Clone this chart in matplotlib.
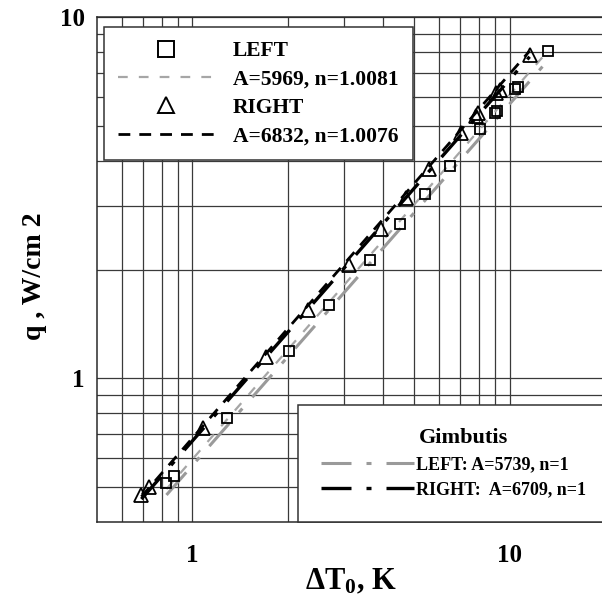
import matplotlib
matplotlib.use('Agg')
import matplotlib.pyplot as plt
import numpy as np
from matplotlib.lines import Line2D
from matplotlib.ticker import FixedLocator, NullFormatter

plt.rcParams['font.family'] = 'Liberation Serif'
plt.rcParams['font.weight'] = 'bold'
plt.rcParams['axes.labelweight'] = 'bold'
plt.rcParams['mathtext.fontset'] = 'custom'
plt.rcParams['mathtext.rm'] = 'Liberation Serif:bold'
plt.rcParams['mathtext.it'] = 'Liberation Serif:bold'
plt.rcParams['mathtext.bf'] = 'Liberation Serif:bold'
plt.rcParams['lines.scale_dashes'] = False

left_dt = [0.828, 0.877, 1.289, 2.023, 2.69, 3.636, 4.53, 5.43, 6.47, 8.04,
           9.01, 9.15, 10.44, 10.62, 13.2]
left_q = [0.514, 0.537, 0.778, 1.186, 1.597, 2.127, 2.675, 3.23, 3.87, 4.89,
          5.43, 5.51, 6.31, 6.42, 8.07]
right_dt = [0.69, 0.727, 1.083, 1.708, 2.311, 3.128, 3.94, 4.70, 5.59, 7.04,
            7.81, 7.94, 9.08, 9.30, 11.57]
right_q = [0.476, 0.501, 0.730, 1.144, 1.547, 2.06, 2.586, 3.15, 3.79, 4.77,
           5.32, 5.42, 6.15, 6.28, 7.85]

# power-law fits q = A * dT^n (A in W/m2K -> W/cm2)
fit_left = (5969, 1.0081)
fit_right = (6832, 1.0076)
gimb_left = (5739, 1.0)
gimb_right = (6709, 1.0)

x_major = [1, 10]
x_minor = [0.6, 0.7, 0.8, 0.9, 2, 3, 4, 5, 6, 7, 8, 9]
y_major = [1, 10]
y_minor = [0.5, 0.6, 0.7, 0.8, 0.9, 2, 3, 4, 5, 6, 7, 8, 9]

dash_fit_l = (7, 8)
dash_fit_r = (8.5, 6.5)
dash_gimb = (21.6, 10.8, 3.6, 10.8)
gray = '#a6a6a6'
grid_c = '#3a3a3a'


def power(par, dt):
    dt = np.asarray(dt)
    return par[0] * dt ** par[1] / 1e4


fig = plt.figure(figsize=(6.02, 6.01), dpi=100)
ax = fig.add_axes([97 / 602, 79 / 601, 508 / 602, 505 / 601])
ax.set_xscale('log')
ax.set_yscale('log')
ax.set_xlim(0.5, 20)
ax.set_ylim(0.4, 10)

ax.xaxis.set_major_locator(FixedLocator(x_major))
ax.xaxis.set_minor_locator(FixedLocator(x_minor))
ax.yaxis.set_major_locator(FixedLocator(y_major))
ax.yaxis.set_minor_locator(FixedLocator(y_minor))
ax.set_xticklabels([str(v) for v in x_major])
ax.set_yticklabels([str(v) for v in y_major])
ax.xaxis.set_minor_formatter(NullFormatter())
ax.yaxis.set_minor_formatter(NullFormatter())
ax.tick_params(which='both', length=0, labelsize=18)
ax.tick_params(axis='x', pad=16)
ax.tick_params(axis='y', pad=9)
ax.grid(True, which='both', color=grid_c, lw=0.9)
ax.set_axisbelow(True)
for s in ax.spines.values():
    s.set_color('#2a2a2a')
    s.set_linewidth(1.1)

lx = np.array([min(left_dt), max(left_dt)])
rx = np.array([min(right_dt), max(right_dt)])

ax.plot(lx, power(gimb_left, lx), color='#9a9a9a', lw=2.2, dashes=dash_gimb)
ax.plot(rx, power(gimb_right, rx), color='k', lw=2.4, dashes=dash_gimb)
ax.plot(lx, power(fit_left, lx), color=gray, lw=1.6, dashes=dash_fit_l)
ax.plot(rx, power(fit_right, rx), color='k', lw=2.0, dashes=dash_fit_r)

ax.plot(left_dt, left_q, ls='none', marker='s', ms=7.5, mfc='none', mec='k', mew=1.3)
ax.plot(right_dt, right_q, ls='none', marker='^', ms=10, mfc='none', mec='k', mew=1.3)

ax.set_xlabel('ΔT$_0$, K', fontsize=22)
ax.set_ylabel('q , W/cm 2', fontsize=20)
ax.xaxis.set_label_coords(0.5, -0.089)
ax.yaxis.set_label_coords(-0.098, 0.487)

h1 = [
    Line2D([], [], ls='none', marker='s', ms=12, mfc='none', mec='k', mew=1.4),
    Line2D([], [], color=gray, lw=1.6, dashes=dash_fit_l),
    Line2D([], [], ls='none', marker='^', ms=12, mfc='none', mec='k', mew=1.4),
    Line2D([], [], color='k', lw=2.0, dashes=dash_fit_r),
]
l1 = ['LEFT', 'A=5969, n=1.0081', 'RIGHT', 'A=6832, n=1.0076']
leg1 = ax.legend(h1, l1, loc='upper left', bbox_to_anchor=(104 / 602, 1 - 27 / 601),
                 bbox_transform=fig.transFigure, borderaxespad=0, numpoints=1,
                 handlelength=4.5, handletextpad=0.85, labelspacing=0.39,
                 borderpad=0.65, fancybox=False, framealpha=1,
                 edgecolor='#333333', prop={'size': 15.5, 'weight': 'bold'})
leg1.get_frame().set_linewidth(1.1)
ax.add_artist(leg1)

h2 = [
    Line2D([], [], color='#9a9a9a', lw=2.2, dashes=dash_gimb),
    Line2D([], [], color='k', lw=2.4, dashes=dash_gimb),
]
l2 = ['LEFT: A=5739, n=1', 'RIGHT:  A=6709, n=1']
leg2 = ax.legend(h2, l2, loc='lower left',
                 bbox_to_anchor=(298 / 602, 79 / 601, 330 / 602, 119 / 601),
                 bbox_transform=fig.transFigure, mode='expand', borderaxespad=0,
                 title='Gimbutis', title_fontproperties={'size': 16, 'weight': 'bold'},
                 handlelength=5.1, handletextpad=0.15, labelspacing=0.45,
                 borderpad=1.3, fancybox=False, framealpha=1,
                 edgecolor='#333333', prop={'size': 13, 'weight': 'bold'})
leg2.get_frame().set_linewidth(1.1)

fig.savefig('out.png', dpi=100)
